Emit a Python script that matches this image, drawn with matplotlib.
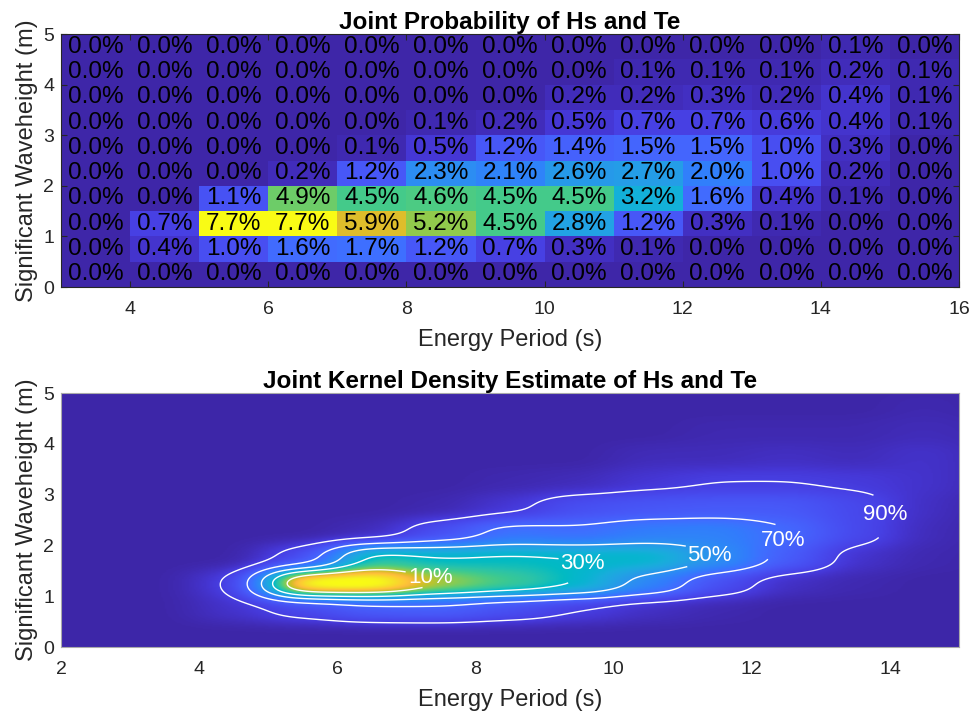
import math
import numpy as np
import matplotlib
matplotlib.use("Agg")
import matplotlib.pyplot as plt
from matplotlib.colors import LinearSegmentedColormap, FuncNorm

# ---------------- data ----------------
te_edges = list(range(3, 17))                      # energy period bin edges (s)
hs_edges = [0.0, 0.5, 1.0, 1.5, 2.0, 2.5, 3.0, 3.5, 4.0, 4.5, 5.0]   # Hs bin edges (m)
# joint probability (%), rows from top (Hs 4.5-5) to bottom (Hs 0-0.5)
prob_rows_top_down = [
    [0.0, 0.0, 0.0, 0.0, 0.0, 0.0, 0.0, 0.0, 0.0, 0.0, 0.0, 0.1, 0.0],
    [0.0, 0.0, 0.0, 0.0, 0.0, 0.0, 0.0, 0.0, 0.1, 0.1, 0.1, 0.2, 0.1],
    [0.0, 0.0, 0.0, 0.0, 0.0, 0.0, 0.0, 0.2, 0.2, 0.3, 0.2, 0.4, 0.1],
    [0.0, 0.0, 0.0, 0.0, 0.0, 0.1, 0.2, 0.5, 0.7, 0.7, 0.6, 0.4, 0.1],
    [0.0, 0.0, 0.0, 0.0, 0.1, 0.5, 1.2, 1.4, 1.5, 1.5, 1.0, 0.3, 0.0],
    [0.0, 0.0, 0.0, 0.2, 1.2, 2.3, 2.1, 2.6, 2.7, 2.0, 1.0, 0.2, 0.0],
    [0.0, 0.0, 1.1, 4.9, 4.5, 4.6, 4.5, 4.5, 3.2, 1.6, 0.4, 0.1, 0.0],
    [0.0, 0.7, 7.7, 7.7, 5.9, 5.2, 4.5, 2.8, 1.2, 0.3, 0.1, 0.0, 0.0],
    [0.0, 0.4, 1.0, 1.6, 1.7, 1.2, 0.7, 0.3, 0.1, 0.0, 0.0, 0.0, 0.0],
    [0.0, 0.0, 0.0, 0.0, 0.0, 0.0, 0.0, 0.0, 0.0, 0.0, 0.0, 0.0, 0.0],
]
contour_pcts = [10, 30, 50, 70, 90]

# ---------------- style ----------------
parula_anchors = [
    (0.2422, 0.1504, 0.6603), (0.2578, 0.1818, 0.7511), (0.2706, 0.2147, 0.8364),
    (0.2783, 0.2559, 0.8991), (0.2813, 0.3006, 0.9414), (0.2795, 0.3447, 0.9717),
    (0.2699, 0.3892, 0.9906), (0.2440, 0.4358, 0.9988), (0.1963, 0.4847, 0.9892),
    (0.1786, 0.5289, 0.9682), (0.1687, 0.5703, 0.9359), (0.1460, 0.6091, 0.9079),
    (0.1248, 0.6459, 0.8883), (0.0952, 0.6798, 0.8598), (0.0297, 0.7082, 0.8163),
    (0.0067, 0.7312, 0.7660), (0.0964, 0.7500, 0.7120), (0.1717, 0.7670, 0.6554),
    (0.2161, 0.7843, 0.5923), (0.2906, 0.7973, 0.5188), (0.3909, 0.8029, 0.4354),
    (0.5044, 0.7993, 0.3480), (0.6174, 0.7876, 0.2612), (0.7242, 0.7698, 0.1910),
    (0.8203, 0.7498, 0.1535), (0.9035, 0.7330, 0.1774), (0.9728, 0.7298, 0.2394),
    (0.9970, 0.7659, 0.2199), (0.9892, 0.8136, 0.1885), (0.9676, 0.8639, 0.1643),
    (0.9597, 0.9135, 0.1423), (0.9691, 0.9606, 0.1064), (0.9769, 0.9839, 0.0805),
]
parula = LinearSegmentedColormap.from_list("parula", parula_anchors, N=256)
# colour position reached at each contour (90, 70, 50, 30, 10 %)
contour_colour_pos = [0.09, 0.20, 0.32, 0.45, 0.70]

plt.rcParams['font.family'] = ['Liberation Sans', 'DejaVu Sans']
TXT = '#262626'
FS_TICK = 14
FS_LAB = 17
FS_TITLE = 17.5
FS_CELL = 17.5

fig = plt.figure(figsize=(9.73, 7.14), dpi=100)
ax1 = fig.add_axes([0.0627, 0.598, 0.923, 0.3543])
ax2 = fig.add_axes([0.0627, 0.0938, 0.923, 0.3557])

# ---------------- top: joint probability ----------------
P = np.array(prob_rows_top_down)[::-1]   # bottom row first
ax1.pcolormesh(te_edges, hs_edges, P, cmap=parula, vmin=0, vmax=P.max(),
               shading='flat')
te_c = 0.5 * (np.array(te_edges[:-1]) + np.array(te_edges[1:]))
hs_c = 0.5 * (np.array(hs_edges[:-1]) + np.array(hs_edges[1:]))
for i, yc in enumerate(hs_c):
    for j, xc in enumerate(te_c):
        ax1.text(xc, yc, f"{P[i, j]:.1f}%", ha='center', va='center',
                 fontsize=FS_CELL, color='black')
ax1.set_xlim(3, 16)
ax1.set_ylim(0, 5)
ax1.set_xticks(range(4, 17, 2))
ax1.set_yticks(range(0, 6))
ax1.set_title("Joint Probability of Hs and Te", fontsize=FS_TITLE,
              fontweight='bold', pad=4, color='black')
ax1.set_xlabel("Energy Period (s)", fontsize=FS_LAB, color=TXT, labelpad=8)
ax1.set_ylabel("Significant Waveheight (m)", fontsize=FS_LAB, color=TXT, labelpad=4)
ax1.tick_params(axis='both', direction='in', top=True, right=True, length=4,
                width=0.8, colors=TXT, labelsize=FS_TICK)
ax1.tick_params(axis='x', pad=10)
ax1.tick_params(axis='y', pad=5)
for s in ax1.spines.values():
    s.set_color(TXT)
    s.set_linewidth(0.8)

# ---------------- bottom: smoothed density from the table ----------------
gx = np.linspace(2, 16, 561)
gy = np.linspace(0, 5, 251)
verf = np.vectorize(math.erf)
sx, sy = 0.35, 0.13

def box_gauss(g, edges, s):
    e = np.array(edges, dtype=float)
    a = e[:-1][:, None]
    b = e[1:][:, None]
    return 0.5 * (verf((g[None, :] - a) / (s * math.sqrt(2)))
                  - verf((g[None, :] - b) / (s * math.sqrt(2)))) / (b - a)

Xp = box_gauss(gx, te_edges, sx)      # (13, Nx)
Yp = box_gauss(gy, hs_edges, sy)      # (10, Ny)
D = Yp.T @ P @ Xp                     # (Ny, Nx)

flat = np.sort(D.ravel())[::-1]
cum = np.cumsum(flat) / flat.sum()
lev = {p: flat[np.searchsorted(cum, p / 100.0)] for p in contour_pcts}
levels = sorted(lev.values())          # 90,70,50,30,10 order
fmt = {lev[p]: f"{p}%" for p in contour_pcts}

xs = [0.0] + levels + [D.max()]
ys = [0.0] + contour_colour_pos + [1.0]
norm = FuncNorm((lambda v: np.interp(v, xs, ys), lambda v: np.interp(v, ys, xs)),
                vmin=0.0, vmax=D.max())

ax2.imshow(D, extent=[gx[0], gx[-1], gy[0], gy[-1]], origin='lower',
           aspect='auto', cmap=parula, norm=norm, interpolation='bilinear')
cs = ax2.contour(gx, gy, D, levels=levels, colors='white', linewidths=1.0)
label_pos = {10: (7.35, 1.35), 30: (10.2, 1.5), 50: (11.6, 1.86),
             70: (12.6, 1.9), 90: (14.2, 2.57)}
# set up labelling for all levels, then place each label on its own level
cs.clabel(levels, fmt=fmt, inline=True, fontsize=16, colors='white',
          manual=[], inline_spacing=2)
all_idx = list(range(len(levels)))
for p in contour_pcts:
    cs.labelIndiceList = [levels.index(lev[p])]
    cs.add_label_near(*label_pos[p], inline=True, inline_spacing=2)
cs.labelIndiceList = all_idx
for t in cs.labelTexts:
    t.set_rotation(0)
ax2.set_xlim(2, 15)
ax2.set_ylim(0, 5)
ax2.set_xticks(range(2, 15, 2))
ax2.set_yticks(range(0, 6))
ax2.set_title("Joint Kernel Density Estimate of Hs and Te", fontsize=FS_TITLE,
              fontweight='bold', pad=4, color='black')
ax2.set_xlabel("Energy Period (s)", fontsize=FS_LAB, color=TXT, labelpad=8)
ax2.set_ylabel("Significant Waveheight (m)", fontsize=FS_LAB, color=TXT, labelpad=4)
ax2.tick_params(axis='both', direction='in', length=0, colors=TXT,
                labelsize=FS_TICK)
ax2.tick_params(axis='x', pad=10)
ax2.tick_params(axis='y', pad=5)
for s in ax2.spines.values():
    s.set_color('#aaaaaa')
    s.set_linewidth(0.8)

fig.savefig("out.png", dpi=100)
